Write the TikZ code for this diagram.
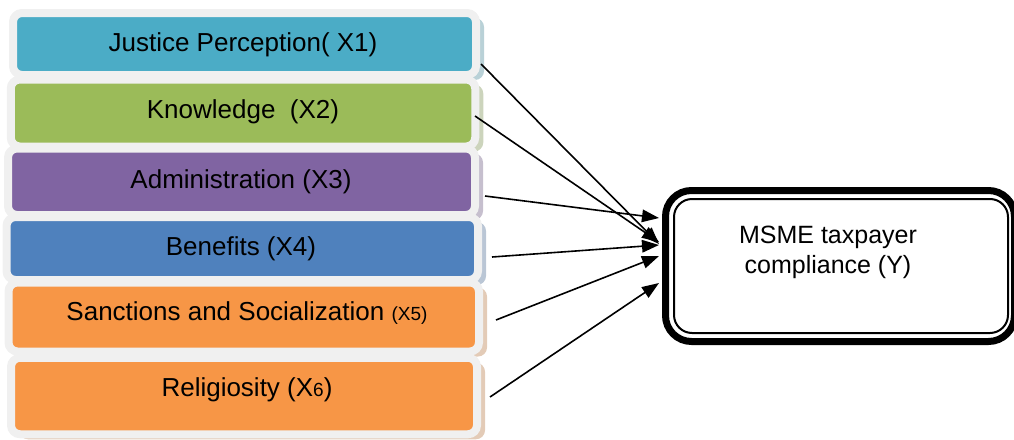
\documentclass[tikz,border=0pt]{standalone}
\usepackage{fontspec}
\setmainfont{Liberation Sans}
\usetikzlibrary{arrows.meta,shadows,calc}

\definecolor{aquafill}{HTML}{4BACC6}
\definecolor{olivefill}{HTML}{9BBB59}
\definecolor{purplefill}{HTML}{8064A2}
\definecolor{bluefill}{HTML}{4F81BD}
\definecolor{orangefill}{HTML}{F79646}
\definecolor{framegray}{HTML}{F0F0F0}

\tikzset{
  factor/.style={draw=framegray, line width=8pt, rounded corners=9pt,
    fill=#1, inner sep=0pt, anchor=center,
    drop shadow={shadow xshift=8pt, shadow yshift=-5pt, fill=#1!55!gray, opacity=0.45}},
  link/.style={line width=1.6pt, -{Triangle[length=17pt,width=12.5pt]}},
  bigtext/.style={font=\fontsize{26}{30}\selectfont}
}
\newcommand{\smalltext}[1]{{\fontsize{19}{22}\selectfont #1}}

\begin{document}
\begin{tikzpicture}[x=1pt, y=-1pt]
\useasboundingbox (0,0) rectangle (1014,439);

% factor boxes, drawn top to bottom so that each overlaps the one above
\node[factor=aquafill, minimum width=463pt, minimum height=62pt] (b1) at (244.5,44) {};
\node[bigtext] (l1) at (243,45) {Justice Perception( X1)};

\node[factor=olivefill, minimum width=464.5pt, minimum height=67pt] (b2) at (243,113) {};
\node[bigtext] (l2) at (243,112) {Knowledge\ \ (X2)};

\node[factor=purplefill, minimum width=467pt, minimum height=66.5pt] (b3) at (241.5,181.75) {};
\node[bigtext] (l3) at (241,182) {Administration (X3)};

\node[factor=bluefill, minimum width=471.5pt, minimum height=63pt] (b4) at (242.25,248.5) {};
\node[bigtext] (l4) at (241,249) {Benefits (X4)};

\node[factor=orangefill, minimum width=470.5pt, minimum height=69pt] (b5) at (243.75,317) {};
\node[bigtext] (l5) at (247,313) {Sanctions and Socialization \smalltext{(X5)}};

\node[factor=orangefill, minimum width=466pt, minimum height=76.5pt] (b6) at (244,396) {};
\node[bigtext] (l6) at (247,390) {Religiosity (X\smalltext{6})};

% outcome box with a heavy outer border and a thin inner border
\node[draw=black, line width=7pt, rounded corners=26pt, fill=white,
      minimum width=349pt, minimum height=151pt, inner sep=0pt] (y) at (840,266) {};
\node[draw=black, line width=2pt, rounded corners=18pt,
      minimum width=334pt, minimum height=134pt, inner sep=0pt] (yin) at (841,266) {};
\node[align=center, font=\fontsize{25}{30}\selectfont] (ylab) at (828,252)
  {MSME taxpayer\\compliance (Y)};

% arrow start points beside the factor boxes
\coordinate (s1) at (481,64);
\coordinate (s2) at (475,116);
\coordinate (s3) at (485,196);
\coordinate (s4) at (492,257);
\coordinate (s5) at (496,320);
\coordinate (s6) at (490,397);

% arrow tips on the left side of the outcome box
\coordinate (t1) at ($(y.west)+(-3,-22)$);
\coordinate (t2) at ($(y.west)+(-3,-24)$);
\coordinate (t3) at ($(y.west)+(-3,-48)$);
\coordinate (t4) at ($(y.west)+(-3,-21)$);
\coordinate (t5) at ($(y.west)+(-3,-10)$);
\coordinate (t6) at ($(y.west)+(-3,17)$);

\draw[link] (s1) -- (t1);
\draw[link] (s2) -- (t2);
\draw[link] (s3) -- (t3);
\draw[link] (s4) -- (t4);
\draw[link] (s5) -- (t5);
\draw[link] (s6) -- (t6);
\end{tikzpicture}
\end{document}
